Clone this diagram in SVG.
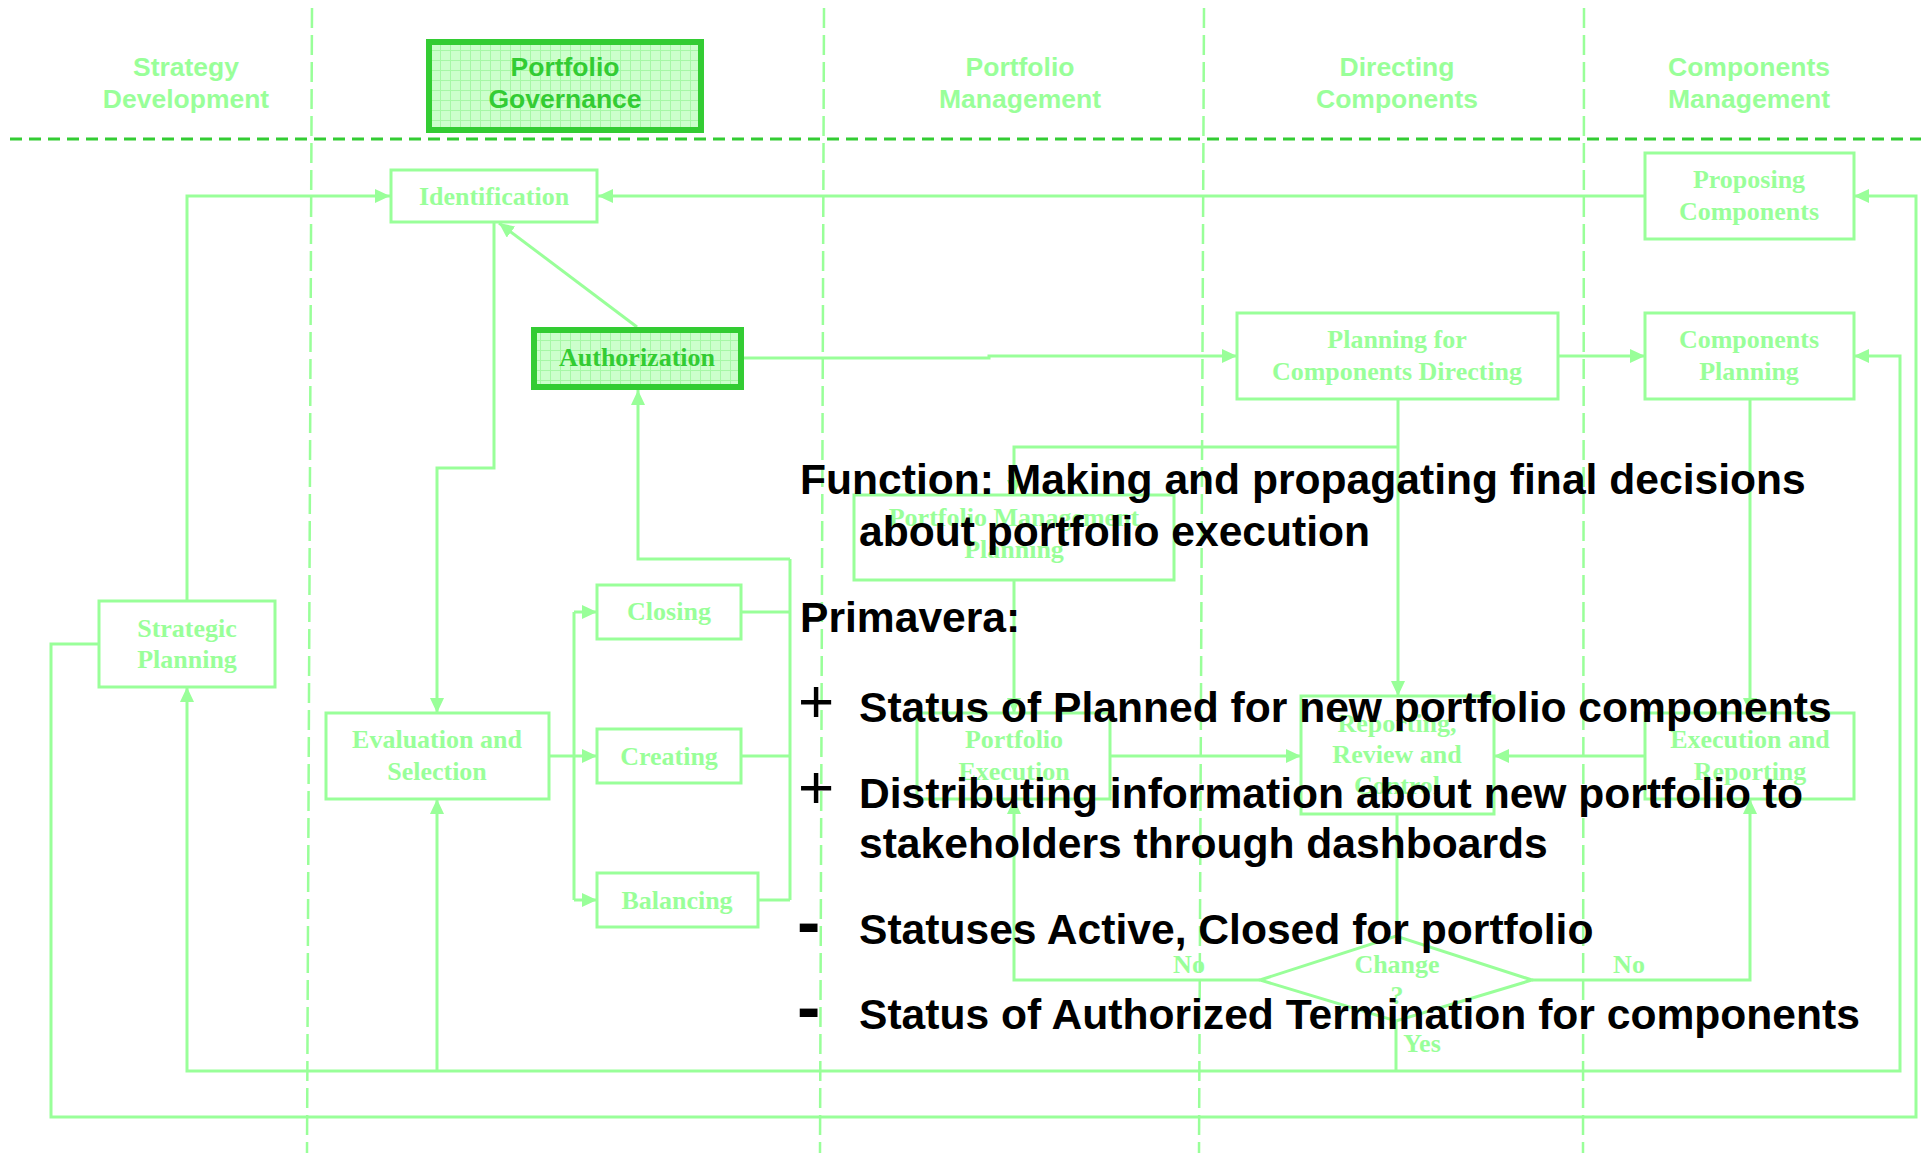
<svg xmlns="http://www.w3.org/2000/svg" width="1921" height="1153" viewBox="0 0 1921 1153">
<style>
.lane{stroke:#99ff99;stroke-width:2.5;stroke-dasharray:20 7;fill:none}
.hdr{font-family:"Liberation Sans",Arial,sans-serif;font-weight:bold;font-size:26.5px;fill:#99ff99;text-anchor:middle}
.hdr.dark{fill:#33cc33}
.box{fill:#ffffff;stroke:#99ff99;stroke-width:3}
.hbox{fill:url(#grid);stroke:#33cc33;stroke-width:6}
.nt{font-family:"Liberation Serif","Times New Roman",serif;font-weight:bold;font-size:26px;fill:#99ff99;text-anchor:middle}
.nt.dark{fill:#33cc33}
.c{fill:none;stroke:#99ff99;stroke-width:3}
.ca{fill:none;stroke:#99ff99;stroke-width:3;marker-end:url(#ah)}
.bt{font-family:"Liberation Sans",Arial,sans-serif;font-weight:bold;font-size:42.6px;fill:#000000}
.plus{font-family:"Liberation Sans",Arial,sans-serif;font-weight:normal;font-size:62px;fill:#000000}
.minus{font-family:"Liberation Sans",Arial,sans-serif;font-weight:bold;font-size:70px;fill:#000000}
</style>
<defs>
<pattern id="grid" width="10" height="10" patternUnits="userSpaceOnUse">
<rect width="10" height="10" fill="#ccffcc"/>
<path d="M0,0.5 H10 M0.5,0 V10" stroke="#a6f7a6" stroke-width="1" fill="none"/>
</pattern>
<marker id="ah" markerWidth="16" markerHeight="14" refX="15" refY="7" orient="auto" markerUnits="userSpaceOnUse">
<path d="M0,0 L15,7 L0,14 z" fill="#99ff99"/>
</marker>
</defs>
<rect width="1921" height="1153" fill="#ffffff"/>

<g id="lanes">
<line class="lane" x1="312" y1="8" x2="307" y2="1153"/>
<line class="lane" x1="824" y1="8" x2="820" y2="1153"/>
<line class="lane" x1="1204" y1="8" x2="1199" y2="1153"/>
<line class="lane" x1="1584" y1="8" x2="1583" y2="1153"/>
<line x1="10" y1="139" x2="1921" y2="139" stroke="#33cc33" stroke-width="3" stroke-dasharray="12 7"/>
</g>

<g id="headers">
<text class="hdr" x="186" y="76">Strategy</text>
<text class="hdr" x="186" y="108">Development</text>
<g id="portfolio-governance">
<rect class="hbox" x="429" y="42" width="272" height="88"/>
<text class="hdr dark" x="565" y="76">Portfolio</text>
<text class="hdr dark" x="565" y="108">Governance</text>
</g>
<text class="hdr" x="1020" y="76">Portfolio</text>
<text class="hdr" x="1020" y="108">Management</text>
<text class="hdr" x="1397" y="76">Directing</text>
<text class="hdr" x="1397" y="108">Components</text>
<text class="hdr" x="1749" y="76">Components</text>
<text class="hdr" x="1749" y="108">Management</text>
</g>

<g id="connectors">
<path class="ca" d="M187,601 V196 H390"/>
<path class="ca" d="M1645,196 H598"/>
<path class="ca" d="M637,327 L499,223"/>
<path class="ca" d="M494,223 V468 H437 V713"/>
<path class="ca" d="M744,358 H989 V356 H1237"/>
<path class="ca" d="M1558,356 H1645"/>
<path class="ca" d="M549,756 H597"/>
<path class="c" d="M574,612 V900"/>
<path class="ca" d="M574,612 H597"/>
<path class="ca" d="M574,900 H597"/>
<path class="c" d="M741,612 H790 M741,756 H790 M758,900 H790 M790,900 V559"/>
<path class="ca" d="M790,559 H638 V390"/>
<path class="ca" d="M1398,399 V696"/>
<path class="ca" d="M1398,447 H1014 V495"/>
<path class="ca" d="M1014,580 V713"/>
<path class="ca" d="M1110,756 H1301"/>
<path class="ca" d="M1645,756 H1494"/>
<path class="ca" d="M1750,399 V713"/>
<path class="c" d="M1397,814 V936"/>
<path class="ca" d="M1260,980 H1014 V799"/>
<path class="ca" d="M1532,980 H1750 V799"/>
<path class="c" d="M1396,1021 V1071"/>
<path class="ca" d="M1396,1071 H187 V687"/>
<path class="ca" d="M437,1071 V799"/>
<path class="ca" d="M1396,1071 H1900 V356 H1854"/>
<path class="ca" d="M99,644 H51 V1117 H1916 V196 H1854"/>
</g>

<g id="identification">
<rect class="box" x="391" y="170" width="206" height="52"/>
<text class="nt" x="494" y="205">Identification</text>
</g>
<g id="authorization">
<rect class="hbox" x="534" y="330" width="207" height="57"/>
<text class="nt dark" x="637" y="366">Authorization</text>
</g>
<g id="proposing-components">
<rect class="box" x="1645" y="153" width="209" height="86"/>
<text class="nt" x="1749" y="188">Proposing</text>
<text class="nt" x="1749" y="220">Components</text>
</g>
<g id="planning-components-directing">
<rect class="box" x="1237" y="313" width="321" height="86"/>
<text class="nt" x="1397" y="348">Planning for</text>
<text class="nt" x="1397" y="380">Components Directing</text>
</g>
<g id="components-planning">
<rect class="box" x="1645" y="313" width="209" height="86"/>
<text class="nt" x="1749" y="348">Components</text>
<text class="nt" x="1749" y="380">Planning</text>
</g>
<g id="strategic-planning">
<rect class="box" x="99" y="601" width="176" height="86"/>
<text class="nt" x="187" y="637">Strategic</text>
<text class="nt" x="187" y="668">Planning</text>
</g>
<g id="evaluation-selection">
<rect class="box" x="326" y="713" width="223" height="86"/>
<text class="nt" x="437" y="748">Evaluation and</text>
<text class="nt" x="437" y="780">Selection</text>
</g>
<g id="closing">
<rect class="box" x="597" y="585" width="144" height="54"/>
<text class="nt" x="669" y="620">Closing</text>
</g>
<g id="creating">
<rect class="box" x="597" y="729" width="144" height="54"/>
<text class="nt" x="669" y="765">Creating</text>
</g>
<g id="balancing">
<rect class="box" x="597" y="873" width="161" height="54"/>
<text class="nt" x="677" y="909">Balancing</text>
</g>
<g id="portfolio-management-planning">
<rect class="box" x="854" y="495" width="320" height="85"/>
<text class="nt" x="1014" y="526">Portfolio Management</text>
<text class="nt" x="1014" y="558">Planning</text>
</g>
<g id="portfolio-execution">
<rect class="box" x="917" y="713" width="193" height="86"/>
<text class="nt" x="1014" y="748">Portfolio</text>
<text class="nt" x="1014" y="780">Execution</text>
</g>
<g id="reporting-review-control">
<rect class="box" x="1301" y="696" width="193" height="118"/>
<text class="nt" x="1397" y="732">Reporting,</text>
<text class="nt" x="1397" y="763">Review and</text>
<text class="nt" x="1397" y="794">Control</text>
</g>
<g id="execution-reporting">
<rect class="box" x="1645" y="713" width="209" height="86"/>
<text class="nt" x="1750" y="748">Execution and</text>
<text class="nt" x="1750" y="780">Reporting</text>
</g>
<g id="change-decision">
<polygon class="box" points="1260,980 1396,936 1532,980 1396,1021"/>
<text class="nt" x="1397" y="973">Change</text>
<text class="nt" x="1397" y="1004">?</text>
</g>
<g id="labels">
<text class="nt" x="1189" y="973">No</text>
<text class="nt" x="1629" y="973">No</text>
<text class="nt" x="1422" y="1052">Yes</text>
</g>

<g id="annotation">
<text class="bt" x="800" y="494">Function: Making and propagating final decisions</text>
<text class="bt" x="859" y="546">about portfolio execution</text>
<text class="bt" x="800" y="632">Primavera:</text>
<text class="plus" x="798" y="722">+</text>
<text class="bt" x="859" y="722">Status of Planned for new portfolio components</text>
<text class="plus" x="798" y="808">+</text>
<text class="bt" x="859" y="808">Distributing information about new portfolio to</text>
<text class="bt" x="859" y="858">stakeholders through dashboards</text>
<text class="minus" x="797" y="946">-</text>
<text class="bt" x="859" y="944">Statuses Active, Closed for portfolio</text>
<text class="minus" x="797" y="1031">-</text>
<text class="bt" x="859" y="1029">Status of Authorized Termination for components</text>
</g>
</svg>
